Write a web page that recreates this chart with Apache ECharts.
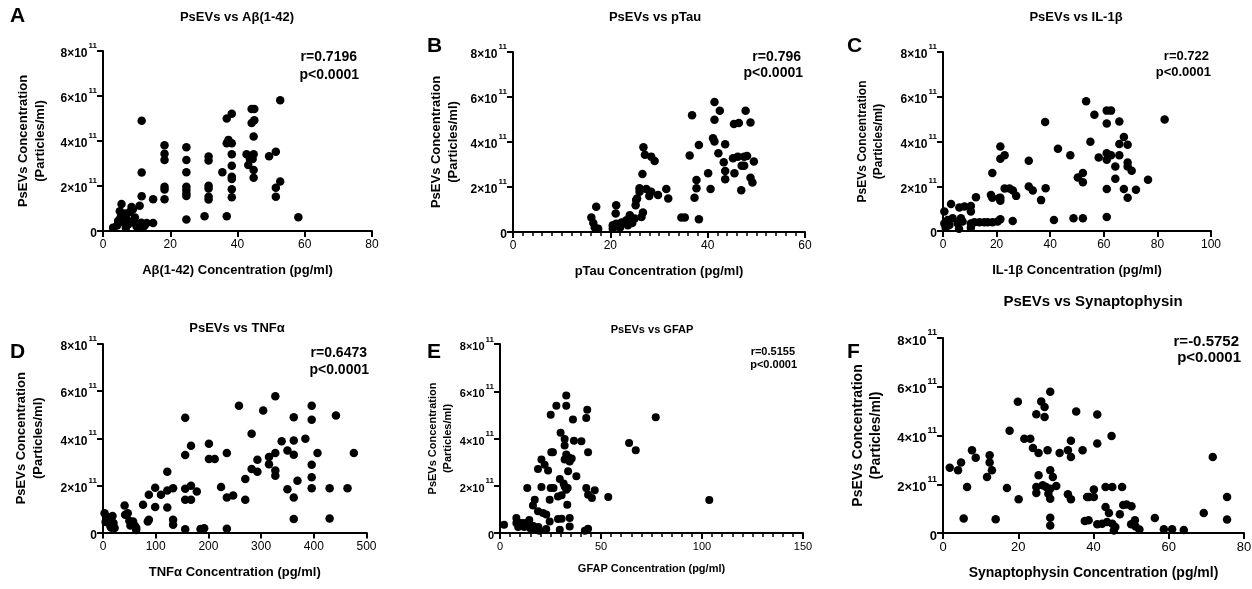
<!DOCTYPE html>
<html><head><meta charset="utf-8">
<script src="https://cdn.jsdelivr.net/npm/echarts@6/dist/echarts.min.js"></script>
<style>html,body{margin:0;padding:0;background:#fff}#c{width:1252px;height:589px}</style>
</head><body><div id="c"></div>
<script>
// y values in units of 10^11 particles/ml
const abeta = [[3.0,0.15],[4.2,0.25],[4.5,0.45],[5.0,0.88],[5.5,1.2],[5.2,0.6],[6.0,0.4],[6.5,0.78],[7.0,0.55],[7.5,0.3],[8.0,0.85],[8.5,0.4],[8.5,1.07],[8.9,0.97],[9.5,0.6],[9.8,0.3],[10.0,0.2],[6.8,0.15],[10.9,1.12],[11.5,4.9],[11.5,2.6],[11.5,1.55],[11.4,0.37],[12.4,0.25],[11.8,0.15],[13.0,0.36],[14.9,0.36],[14.9,1.41],[18.3,3.81],[18.3,3.43],[18.3,3.16],[18.3,1.97],[18.3,1.85],[18.3,1.41],[24.8,3.72],[24.8,3.16],[24.8,2.61],[24.8,1.97],[24.8,1.82],[24.8,1.67],[24.8,1.56],[24.8,0.51],[30.2,0.66],[31.4,3.31],[31.4,3.13],[31.4,2.01],[31.4,1.89],[31.4,1.52],[31.4,1.4],[35.5,2.61],[36.8,5.0],[38.3,5.21],[37.3,4.05],[38.3,3.9],[36.8,3.9],[38.3,3.41],[38.3,2.9],[38.3,2.41],[38.3,2.31],[38.3,1.86],[38.3,1.5],[36.8,0.66],[44.2,5.42],[45,5.42],[44.2,4.8],[45,4.92],[44.8,4.2],[42.7,3.41],[44.8,3.41],[43.7,3.2],[43.2,2.93],[44.5,3.2],[44.8,2.71],[44.8,2.37],[49.4,3.32],[51.4,3.52],[52.7,5.81],[52.7,2.2],[51.4,1.92],[51.4,1.52],[58.1,0.61]];
const ptau = [[16.1,0.64],[16.8,0.2],[17.1,1.12],[17.5,0.15],[16.5,0.4],[20.5,0.15],[20.5,0.3],[21.2,0.37],[21.1,0.82],[21.2,1.19],[22.0,0.2],[22.3,0.42],[23.3,0.52],[23.6,0.3],[24.0,0.75],[24.5,0.4],[25.0,0.6],[25.2,1.19],[25.3,1.42],[25.5,1.49],[26.0,1.79],[26.0,1.94],[26.4,0.67],[26.7,0.87],[26.6,2.58],[26.8,3.77],[27.1,3.43],[27.4,1.91],[28.4,1.79],[28.4,3.35],[28.0,1.6],[29.1,3.16],[29.8,1.64],[31.5,1.91],[31.9,1.49],[34.6,0.64],[35.3,0.64],[36.3,3.4],[36.8,5.19],[37.7,2.31],[37.7,1.94],[37.3,1.52],[38.2,3.87],[38.2,0.57],[40.1,2.61],[40.6,1.91],[41.1,4.17],[41.4,4.02],[41.4,5.78],[41.4,4.99],[42.5,5.39],[42.2,3.5],[43.6,3.9],[43.3,3.1],[43.6,2.71],[43.6,2.34],[45.2,3.28],[45.5,2.61],[45.4,4.8],[46.4,4.84],[46.2,3.35],[46.9,1.86],[47.0,2.95],[47.5,2.95],[47.5,3.35],[47.8,5.39],[48.1,3.38],[48.8,4.87],[48.8,2.41],[49.2,2.2],[49.5,3.13]];
const il1b = [[0.5,0.87],[0.5,0.34],[1.75,0.49],[2.4,0.27],[1,0.15],[3.0,1.21],[3.6,0.57],[5.5,0.34],[6.1,1.05],[6.7,0.57],[7.3,0.42],[8,1.1],[6,0.1],[10.4,1.12],[10.4,0.87],[10.4,0.34],[10.4,0.15],[11.7,0.39],[12.3,1.51],[13.6,0.39],[15.4,0.39],[16.7,0.39],[18.5,0.39],[20.4,0.42],[17.9,1.61],[18.4,1.49],[18.4,2.59],[21,1.47],[21.4,3.78],[21.4,3.23],[21.4,1.49],[21.4,1.35],[21.4,0.52],[23.0,3.39],[23.0,1.9],[24.8,1.9],[26.1,1.81],[26.0,0.45],[27.3,1.57],[32.0,3.14],[32.0,1.99],[33.5,1.81],[36.6,1.38],[38.1,4.87],[38.3,1.91],[41.4,0.49],[42.9,3.68],[47.5,3.39],[48.7,0.57],[50.3,2.39],[52.2,2.59],[52.2,2.18],[52.2,0.57],[53.4,5.8],[55.0,3.99],[56.5,5.2],[58.1,3.29],[61.1,5.38],[61.1,4.8],[61.1,3.48],[61.1,3.18],[61.1,1.88],[61.1,0.63],[62.7,5.38],[62.7,3.39],[64.3,2.88],[64.3,2.33],[65.8,4.89],[65.8,3.89],[65.8,3.39],[67.5,4.2],[67.5,1.88],[68.9,3.86],[68.9,3.06],[68.9,2.88],[68.9,1.49],[70.4,2.69],[72.0,1.84],[76.5,2.29],[82.7,4.98]];
const tnfa = [[3,0.82],[6,0.68],[10,0.55],[14,0.26],[18,0.7],[20,0.4],[22,0.19],[5,0.45],[16,0.2],[41,1.15],[42,0.75],[47,0.82],[50,0.5],[57,0.47],[60,0.3],[63,0.11],[63,0.2],[52,0.3],[76,1.18],[85,0.47],[87,0.54],[87,1.6],[99,1.9],[99,1.08],[110,1.6],[122,2.58],[122,1.78],[122,1.06],[133,1.88],[133,0.54],[133,0.33],[156,4.87],[156,3.29],[156,1.86],[156,1.39],[156,0.14],[167,3.68],[167,1.98],[167,1.39],[178,1.74],[185,0.15],[192,0.18],[201,3.77],[201,3.12],[212,3.12],[224,1.93],[235,3.37],[235,1.49],[235,0.16],[247,1.57],[258,5.38],[270,2.27],[270,1.39],[282,4.19],[282,2.69],[293,3.09],[293,2.58],[304,5.18],[315,3.2],[315,2.9],[327,5.78],[327,3.37],[327,2.63],[327,2.41],[339,3.87],[350,3.48],[350,1.84],[362,4.89],[362,3.9],[362,3.3],[362,1.49],[362,0.57],[369,2.2],[384,3.98],[396,5.38],[396,4.79],[396,2.88],[396,2.34],[396,1.88],[407,3.37],[430,1.88],[430,0.59],[442,4.97],[464,1.88],[476,3.37]];
const gfap = [[2.0,0.35],[8.1,0.64],[8.1,0.42],[9.7,0.42],[11.4,0.42],[13.2,0.42],[9,0.25],[12,0.25],[15,0.2],[17,0.15],[19,0.25],[14.5,0.55],[16.5,0.3],[13.5,1.9],[16.3,1.16],[17.2,1.41],[18.8,0.92],[18.8,2.71],[20.5,1.95],[20.5,3.11],[21.3,0.85],[22.1,2.89],[22.9,0.78],[22.9,0.17],[19.5,0.1],[23.8,2.65],[24.6,1.41],[24.6,0.49],[25.1,1.9],[25.1,5.01],[25.4,3.42],[26.2,3.42],[26.5,1.9],[27.9,5.39],[28.7,1.55],[28.7,0.59],[29.6,2.29],[29.6,0.14],[30.0,4.24],[30.5,1.6],[30.5,0.6],[32.0,3.98],[32.0,3.7],[32.0,3.11],[32.0,1.97],[31.5,2.1],[32.8,5.82],[32.8,5.39],[32.8,3.32],[32.8,1.83],[33.3,1.2],[33.7,2.61],[33.5,1.9],[34.5,3.03],[34.5,0.64],[34.5,0.28],[34.0,3.2],[35.5,3.15],[36.1,4.8],[36.6,3.91],[37.8,2.4],[40.3,3.88],[42.7,4.87],[42.7,1.9],[43.2,5.22],[43.6,3.42],[43.6,1.62],[43.6,0.18],[42,0.1],[45.5,1.48],[46.9,1.81],[53.6,1.52],[63.9,3.81],[67.2,3.5],[77.1,4.9],[103.6,1.4]];
const synapto = [[1.8,2.68],[4.0,2.57],[4.8,2.89],[5.5,0.59],[6.4,1.89],[7.7,3.39],[8.7,3.09],[11.7,2.3],[12.4,3.19],[12.4,2.89],[13.0,2.57],[14.0,0.56],[17.0,1.85],[17.7,4.19],[19.9,5.38],[20.1,1.38],[21.6,3.87],[23.2,3.87],[23.9,3.49],[24.8,4.87],[25.4,3.28],[25.4,2.37],[24.8,1.89],[24.8,1.64],[26.1,5.4],[27.0,5.17],[27.0,4.76],[28.5,5.79],[27.8,3.39],[26.5,1.96],[27.4,1.89],[28.5,1.82],[28.0,1.61],[28.5,1.41],[28.5,2.57],[29.2,2.3],[30.1,1.93],[28.5,0.63],[28.5,0.31],[31.0,3.28],[33.2,3.39],[34.0,3.78],[34.0,3.12],[35.4,4.98],[37.1,3.39],[33.2,1.59],[34.0,1.38],[38.3,1.48],[38.8,1.48],[37.7,0.49],[38.7,0.52],[40.1,1.78],[40.1,1.48],[41.0,4.86],[41.0,3.67],[44.8,3.98],[43.2,1.89],[45.0,1.89],[47.6,1.89],[43.2,1.07],[44.1,0.82],[41.0,0.36],[42.3,0.38],[43.6,0.45],[45.0,0.38],[45.8,0.25],[45.4,0.1],[47.0,0.77],[47.9,1.15],[48.8,1.17],[50.1,1.1],[51.0,0.52],[50.0,0.36],[51.2,0.27],[52.2,0.14],[56.3,0.62],[58.7,0.15],[60.9,0.15],[64.0,0.12],[69.3,0.82],[71.7,3.12],[75.5,1.48],[75.5,0.55]];

const yTicks = [0, 2, 4, 6, 8];
const titles = ['PsEVs vs Aβ(1-42)', 'PsEVs vs pTau', 'PsEVs vs IL-1β', 'PsEVs vs TNFα', 'PsEVs vs GFAP', 'PsEVs vs Synaptophysin'];
const letters = ['A', 'B', 'C', 'D', 'E', 'F'];
const xNames = ['Aβ(1-42) Concentration (pg/ml)', 'pTau Concentration (pg/ml)', 'IL-1β Concentration (pg/ml)', 'TNFα Concentration (pg/ml)', 'GFAP Concentration (pg/ml)', 'Synaptophysin Concentration (pg/ml)'];
const rVals = ['r=0.7196', 'r=0.796', 'r=0.722', 'r=0.6473', 'r=0.5155', 'r=-0.5752'];
const pVals = ['p<0.0001', 'p<0.0001', 'p<0.0001', 'p<0.0001', 'p<0.0001', 'p<0.0001'];
const xMax = [80, 60, 100, 500, 150, 80];
const xInterval = [20, 20, 20, 100, 50, 20];
const datasets = [abeta, ptau, il1b, tnfa, gfap, synapto];

const FONT = '"Liberation Sans", Arial, sans-serif';
const layout = [
  {grid:{left:103,top:51,width:269,height:180}, minor:0, fs:12, ns:13, yl:12, ys:13, title:[237,17,13], letter:[10,6], rp:[359,57,75,14], nameGap:33, yGap:54},
  {grid:{left:513,top:52,width:292,height:180}, minor:10, fs:12, ns:13, yl:12, ys:13, title:[655,17,13], letter:[427,36], rp:[803,57,73,14], nameGap:33, yGap:51},
  {grid:{left:943,top:52,width:268,height:179}, minor:0, fs:12, ns:13, yl:12, ys:12, title:[1076,17,13], letter:[847,36], rp:[1211,56,72,13], nameGap:33, yGap:56},
  {grid:{left:103,top:344,width:263.5,height:188.5}, minor:0, fs:12, ns:13, yl:12, ys:13, title:[237,328,13], letter:[10,342], rp:[369,353,370,14], nameGap:33, yGap:56},
  {grid:{left:500,top:344,width:303,height:189}, minor:10, fs:11, ns:11, yl:11, ys:11, title:[652,330,11], letter:[427,342], rp:[797,352,365,11], nameGap:30, yGap:43},
  {grid:{left:943,top:338,width:301,height:195}, minor:0, fs:13, ns:14, yl:13, ys:14, title:[1093,302,15], letter:[847,342], rp:[1241,342,358,15], nameGap:33, yGap:58}
];

const grids = [], xAxes = [], yAxes = [], series = [], graphics = [];
layout.forEach((L, i) => {
  grids.push(Object.assign({outerBoundsMode:'none', containLabel:false}, L.grid));
  const axisLine = {show:true, lineStyle:{color:'#000', width:2}};
  xAxes.push({
    gridIndex:i, type:'value', min:0, max:xMax[i], interval:xInterval[i],
    axisLine, axisTick:{show:true, length:6, lineStyle:{color:'#000', width:2}},
    minorTick:{show:L.minor>0, splitNumber:L.minor||5, length:4, lineStyle:{color:'#000', width:1.5}},
    splitLine:{show:false},
    axisLabel:{color:'#000', fontFamily:FONT, fontSize:L.fs, margin:8},
    name:xNames[i], nameLocation:'middle', nameGap:L.nameGap,
    nameTextStyle:{color:'#000', fontFamily:FONT, fontWeight:'bold', fontSize:L.ns}
  });
  yAxes.push({
    gridIndex:i, type:'value', min:yTicks[0], max:yTicks[yTicks.length-1], interval:yTicks[1]-yTicks[0],
    axisLine, axisTick:{show:true, length:6, lineStyle:{color:'#000', width:2}},
    splitLine:{show:false},
    axisLabel:{
      color:'#000', fontFamily:FONT, margin:6,
      formatter: v => v === 0 ? '{b|0}' : '{b|' + v + '×10}{s|11}',
      rich:{
        b:{fontFamily:FONT, fontSize:L.yl, fontWeight:'bold', color:'#000', lineHeight:L.yl+6, verticalAlign:'bottom'},
        s:{fontFamily:FONT, fontSize:Math.round(L.yl*0.7), fontWeight:'bold', color:'#000', lineHeight:L.yl+6, verticalAlign:'top', padding:[0,0,0,1]}
      }
    },
    name:'PsEVs Concentration\n(Particles/ml)', nameLocation:'middle', nameGap:L.yGap,
    nameTextStyle:{color:'#000', fontFamily:FONT, fontWeight:'bold', fontSize:L.ys, lineHeight:L.ys+4}
  });
  series.push({type:'scatter', xAxisIndex:i, yAxisIndex:i, data:datasets[i], symbol:'circle', symbolSize: i===4?8:8.5,
    itemStyle:{color:'#000', opacity:1}, silent:true, animation:false});
  graphics.push({type:'text', left:L.letter[0], top:L.letter[1], style:{text:letters[i], font:'bold 21px ' + FONT, fill:'#000'}});
  graphics.push({type:'text', x:L.title[0], y:L.title[1], style:{text:titles[i], font:'bold ' + L.title[2] + 'px ' + FONT, fill:'#000', textAlign:'center', textVerticalAlign:'middle'}});
  graphics.push({type:'text', x:L.rp[0]-2, y:L.rp[1], style:{text:rVals[i], font:'bold ' + L.rp[3] + 'px ' + FONT, fill:'#000', textAlign:'right', textVerticalAlign:'middle'}});
  graphics.push({type:'text', x:L.rp[0], y:L.rp[2], style:{text:pVals[i], font:'bold ' + L.rp[3] + 'px ' + FONT, fill:'#000', textAlign:'right', textVerticalAlign:'middle'}});
});

const chart = echarts.init(document.getElementById('c'), null, {renderer:'canvas'});
chart.setOption({animation:false, backgroundColor:'#fff', grid:grids, xAxis:xAxes, yAxis:yAxes, series, graphic:graphics});
</script></body></html>
